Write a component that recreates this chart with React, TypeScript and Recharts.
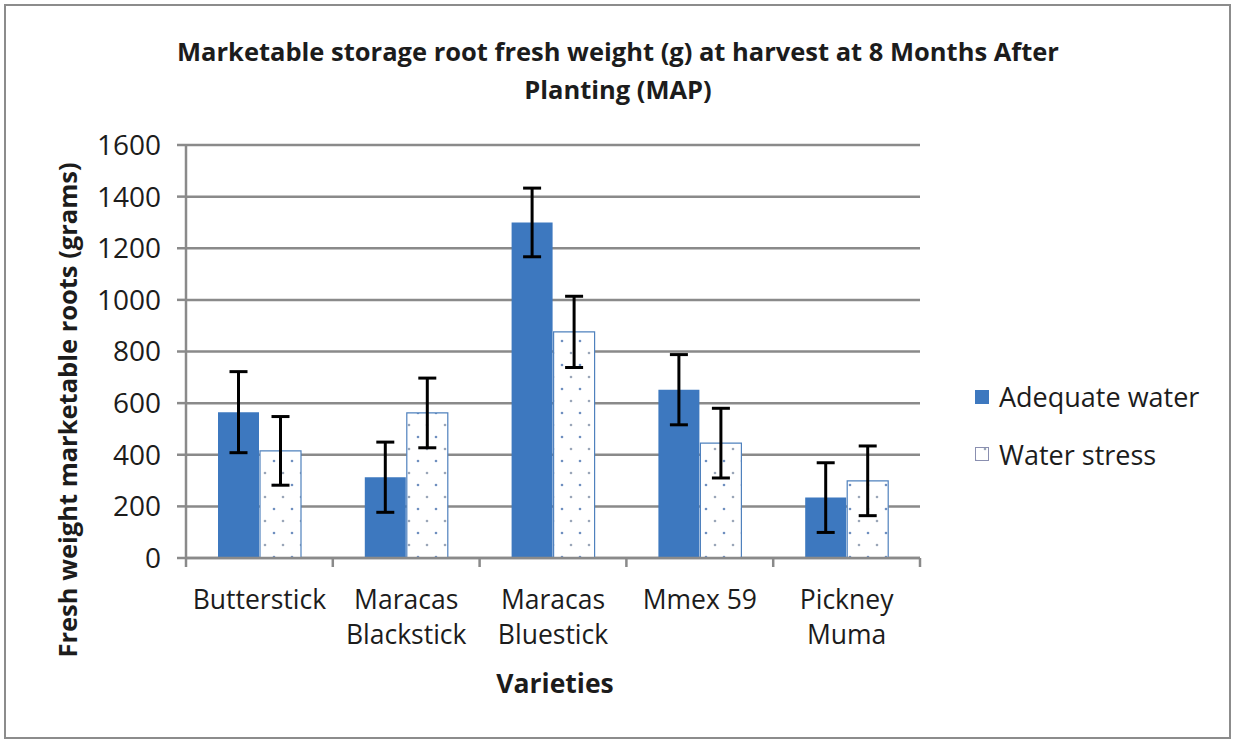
import React from "react";
import {
  BarChart,
  Bar,
  XAxis,
  YAxis,
  CartesianGrid,
  ErrorBar,
  Customized,
} from "recharts";

const categories = ["Butterstick", "Maracas Blackstick", "Maracas Bluestick", "Mmex 59", "Pickney Muma"];
const categoryLines = [["Butterstick"], ["Maracas", "Blackstick"], ["Maracas", "Bluestick"], ["Mmex 59"], ["Pickney", "Muma"]];
const adequateWater = [565, 313, 1300, 652, 234];
const adequateErr = [157, 136, 133, 136, 135];
const waterStress = [415, 562, 876, 445, 299];
const stressErr = [133, 135, 138, 135, 135];
const yTicks = [0, 200, 400, 600, 800, 1000, 1200, 1400, 1600];
const boundaryTicks = [0, 1, 2, 3, 4, 5];
const seriesNames = ["Adequate water", "Water stress"];
const titleLines = ["Marketable storage root fresh weight (g) at harvest at 8 Months After", "Planting (MAP)"];
const yLabel = "Fresh weight marketable roots (grams)";
const xLabel = "Varieties";

const data = categories.map((c, i) => ({
  name: c,
  pos: i + 0.5,
  a: adequateWater[i],
  aErr: adequateErr[i],
  s: waterStress[i],
  sErr: stressErr[i],
}));

const BLUE = "#3d78bf";
const TXT = "#1c1c1c";
const FONT = "'Open Sans', Lato, sans-serif";
const GRID = "#8a8a8a";

const CatTick = (props: any) => {
  const { x, y, payload, index } = props;
  const lines = categoryLines[index] || [String(payload.value)];
  return (
    <g>
      {lines.map((l: string, k: number) => (
        <text key={k} x={x} y={y + 33 + k * 35} textAnchor="middle" fill={TXT} fontSize={26.5} fontFamily={FONT}>
          {l}
        </text>
      ))}
    </g>
  );
};

const Overlay = () => (
  <g>
    {titleLines.map((t, i) => (
      <text key={i} x={618} y={61 + i * 38} textAnchor="middle" fontSize={25.5} fontWeight="bold" fill={TXT} fontFamily={FONT}>
        {t}
      </text>
    ))}
    <text x={0} y={0} transform="translate(77,410) rotate(-90)" textAnchor="middle" fontSize={25.5} fontWeight="bold" fill={TXT} fontFamily={FONT}>
      {yLabel}
    </text>
    <text x={555} y={693} textAnchor="middle" fontSize={26.5} fontWeight="bold" fill={TXT} fontFamily={FONT}>
      {xLabel}
    </text>
    <g>
      <rect x={975} y={390} width={14} height={14} fill={BLUE} />
      <text x={999} y={407} fontSize={27} fill={TXT} fontFamily={FONT}>{seriesNames[0]}</text>
      <rect x={975.5} y={447.5} width={13} height={13} fill="url(#dots)" stroke="#8a8fb0" strokeWidth={1} />
      <text x={999} y={465} fontSize={27} fill={TXT} fontFamily={FONT}>{seriesNames[1]}</text>
    </g>
  </g>
);

export default function App() {
  return (
    <div style={{ position: "absolute", left: 0, top: 0, width: 1235, height: 743, background: "#fff" }}>
      <BarChart
        width={1235}
        height={743}
        data={data}
        margin={{ top: 145, right: 315, bottom: 0, left: 106 }}
        barSize={41}
        barGap={1}
      >
        <defs>
          <pattern id="dots" width="18" height="24" patternUnits="userSpaceOnUse">
            <rect width="18" height="24" fill="#ffffff" />
            <circle cx="4" cy="5" r="1.3" fill="#6f8fbf" />
            <circle cx="13" cy="17" r="1.3" fill="#9aa6b8" />
          </pattern>
        </defs>
        <CartesianGrid xAxisId={1} horizontal vertical={false} stroke={GRID} strokeWidth={2.5} />
        <XAxis
          xAxisId={0}
          dataKey="pos"
          type="number"
          domain={[0, 5]}
          allowDataOverflow
          ticks={boundaryTicks}
          height={10}
          tickSize={9}
          tickFormatter={() => ""}
          stroke={GRID}
          strokeWidth={2.5}
          tickLine={{ stroke: GRID, strokeWidth: 2.5 }}
        />
        <XAxis
          xAxisId={1}
          dataKey="name"
          height={175}
          axisLine={false}
          tickLine={false}
          tick={<CatTick />}
          interval={0}
        />
        <YAxis
          width={80}
          domain={[0, 1600]}
          ticks={yTicks}
          interval={0}
          tickSize={9}
          tickMargin={16}
          stroke={GRID}
          strokeWidth={2.5}
          tick={{ fontSize: 28, fill: TXT, fontFamily: FONT }}
        />
        <Bar xAxisId={1} dataKey="a" name={seriesNames[0]} fill={BLUE} isAnimationActive={false}>
          <ErrorBar dataKey="aErr" width={9} strokeWidth={3} stroke="#000" direction="y" />
        </Bar>
        <Bar xAxisId={1} dataKey="s" name={seriesNames[1]} fill="url(#dots)" stroke="#4f81bd" strokeWidth={1.2} isAnimationActive={false}>
          <ErrorBar dataKey="sErr" width={9} strokeWidth={3} stroke="#000" direction="y" />
        </Bar>
        <Customized component={Overlay} />
      </BarChart>
      <div
        style={{
          position: "absolute",
          left: 4,
          top: 4,
          width: 1227,
          height: 735,
          border: "2px solid #8c8c8c",
          boxSizing: "border-box",
          pointerEvents: "none",
        }}
      />
    </div>
  );
}
